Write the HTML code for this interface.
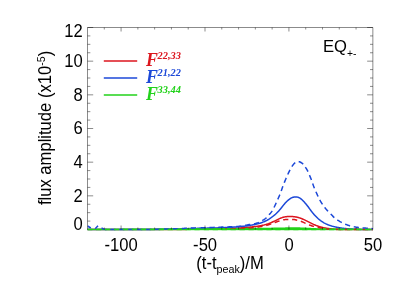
<!DOCTYPE html>
<html><head><meta charset="utf-8"><title>plot</title>
<style>
html,body{margin:0;padding:0;background:#fff;}
body{width:399px;height:285px;position:relative;overflow:hidden;font-family:"Liberation Sans",sans-serif;}
</style></head><body>
<svg width="399" height="285" viewBox="0 0 399 285" style="position:absolute;left:0;top:0" font-family="Liberation Sans, sans-serif" font-size="16.6" fill="#000">
<defs><clipPath id="c"><rect x="87.5" y="27.5" width="285.85" height="203.2"/></clipPath><filter id="soft" x="-5%" y="-5%" width="110%" height="110%"><feGaussianBlur stdDeviation="0.3"/></filter></defs>
<g clip-path="url(#c)" fill="none" stroke-width="1.5" stroke-linejoin="round">
<path d="M87.0,229.50 L87.5,229.50 L88.0,229.50 L88.5,229.50 L89.0,229.50 L89.5,229.50 L90.0,229.50 L90.5,229.50 L91.0,229.50 L91.5,229.50 L92.0,229.50 L92.5,229.50 L93.0,229.50 L93.5,229.50 L94.0,229.50 L94.5,229.50 L95.0,229.50 L95.5,229.50 L96.0,229.50 L96.5,229.50 L97.0,229.50 L97.5,229.50 L98.0,229.50 L98.5,229.50 L99.0,229.50 L99.5,229.50 L100.0,229.50 L100.5,229.50 L101.0,229.50 L101.5,229.50 L102.0,229.50 L102.5,229.50 L103.0,229.50 L103.5,229.50 L104.0,229.50 L104.5,229.50 L105.0,229.50 L105.5,229.50 L106.0,229.50 L106.5,229.50 L107.0,229.50 L107.5,229.50 L108.0,229.50 L108.5,229.50 L109.0,229.50 L109.5,229.50 L110.0,229.50 L110.5,229.50 L111.0,229.50 L111.5,229.50 L112.0,229.50 L112.5,229.50 L113.0,229.50 L113.5,229.50 L114.0,229.50 L114.5,229.50 L115.0,229.50 L115.5,229.50 L116.0,229.50 L116.5,229.50 L117.0,229.50 L117.5,229.50 L118.0,229.50 L118.5,229.50 L119.0,229.50 L119.5,229.50 L120.0,229.50 L120.5,229.50 L121.0,229.50 L121.5,229.50 L122.0,229.50 L122.5,229.50 L123.0,229.50 L123.5,229.50 L124.0,229.50 L124.5,229.50 L125.0,229.50 L125.5,229.50 L126.0,229.50 L126.5,229.50 L127.0,229.50 L127.5,229.50 L128.0,229.50 L128.5,229.50 L129.0,229.50 L129.5,229.50 L130.0,229.50 L130.5,229.50 L131.0,229.50 L131.5,229.50 L132.0,229.50 L132.5,229.50 L133.0,229.50 L133.5,229.50 L134.0,229.50 L134.5,229.50 L135.0,229.50 L135.5,229.50 L136.0,229.50 L136.5,229.50 L137.0,229.50 L137.5,229.50 L138.0,229.50 L138.5,229.50 L139.0,229.50 L139.5,229.50 L140.0,229.50 L140.5,229.50 L141.0,229.50 L141.5,229.50 L142.0,229.50 L142.5,229.50 L143.0,229.50 L143.5,229.50 L144.0,229.50 L144.5,229.50 L145.0,229.50 L145.5,229.50 L146.0,229.50 L146.5,229.50 L147.0,229.50 L147.5,229.50 L148.0,229.50 L148.5,229.50 L149.0,229.50 L149.5,229.50 L150.0,229.50 L150.5,229.50 L151.0,229.50 L151.5,229.50 L152.0,229.50 L152.5,229.50 L153.0,229.50 L153.5,229.50 L154.0,229.50 L154.5,229.50 L155.0,229.50 L155.5,229.50 L156.0,229.50 L156.5,229.50 L157.0,229.50 L157.5,229.50 L158.0,229.50 L158.5,229.50 L159.0,229.50 L159.5,229.50 L160.0,229.50 L160.5,229.50 L161.0,229.50 L161.5,229.50 L162.0,229.50 L162.5,229.50 L163.0,229.50 L163.5,229.50 L164.0,229.50 L164.5,229.50 L165.0,229.50 L165.5,229.50 L166.0,229.50 L166.5,229.50 L167.0,229.50 L167.5,229.50 L168.0,229.50 L168.5,229.50 L169.0,229.50 L169.5,229.50 L170.0,229.50 L170.5,229.50 L171.0,229.50 L171.5,229.50 L172.0,229.50 L172.5,229.50 L173.0,229.50 L173.5,229.50 L174.0,229.50 L174.5,229.50 L175.0,229.50 L175.5,229.50 L176.0,229.50 L176.5,229.50 L177.0,229.50 L177.5,229.50 L178.0,229.50 L178.5,229.50 L179.0,229.50 L179.5,229.50 L180.0,229.50 L180.5,229.50 L181.0,229.49 L181.5,229.49 L182.0,229.48 L182.5,229.48 L183.0,229.47 L183.5,229.46 L184.0,229.45 L184.5,229.44 L185.0,229.43 L185.5,229.41 L186.0,229.40 L186.5,229.38 L187.0,229.37 L187.5,229.35 L188.0,229.33 L188.5,229.32 L189.0,229.30 L189.5,229.28 L190.0,229.26 L190.5,229.24 L191.0,229.22 L191.5,229.20 L192.0,229.18 L192.5,229.16 L193.0,229.14 L193.5,229.12 L194.0,229.10 L194.5,229.08 L195.0,229.06 L195.5,229.04 L196.0,229.02 L196.5,229.01 L197.0,228.99 L197.5,228.97 L198.0,228.96 L198.5,228.94 L199.0,228.93 L199.5,228.91 L200.0,228.90 L200.5,228.89 L201.0,228.88 L201.5,228.87 L202.0,228.85 L202.5,228.84 L203.0,228.83 L203.5,228.82 L204.0,228.81 L204.5,228.80 L205.0,228.79 L205.5,228.78 L206.0,228.77 L206.5,228.76 L207.0,228.75 L207.5,228.74 L208.0,228.73 L208.5,228.72 L209.0,228.71 L209.5,228.70 L210.0,228.69 L210.5,228.68 L211.0,228.67 L211.5,228.66 L212.0,228.65 L212.5,228.64 L213.0,228.63 L213.5,228.62 L214.0,228.61 L214.5,228.60 L215.0,228.59 L215.5,228.59 L216.0,228.58 L216.5,228.57 L217.0,228.56 L217.5,228.55 L218.0,228.54 L218.5,228.53 L219.0,228.52 L219.5,228.51 L220.0,228.50 L220.5,228.49 L221.0,228.48 L221.5,228.47 L222.0,228.46 L222.5,228.46 L223.0,228.45 L223.5,228.44 L224.0,228.43 L224.5,228.43 L225.0,228.42 L225.5,228.41 L226.0,228.40 L226.5,228.40 L227.0,228.39 L227.5,228.38 L228.0,228.37 L228.5,228.37 L229.0,228.36 L229.5,228.35 L230.0,228.34 L230.5,228.33 L231.0,228.32 L231.5,228.31 L232.0,228.30 L232.5,228.29 L233.0,228.28 L233.5,228.27 L234.0,228.26 L234.5,228.24 L235.0,228.23 L235.5,228.21 L236.0,228.20 L236.5,228.18 L237.0,228.16 L237.5,228.13 L238.0,228.10 L238.5,228.07 L239.0,228.04 L239.5,228.01 L240.0,227.97 L240.5,227.93 L241.0,227.89 L241.5,227.85 L242.0,227.81 L242.5,227.76 L243.0,227.72 L243.5,227.67 L244.0,227.63 L244.5,227.58 L245.0,227.54 L245.5,227.49 L246.0,227.45 L246.5,227.40 L247.0,227.36 L247.5,227.31 L248.0,227.27 L248.5,227.22 L249.0,227.17 L249.5,227.13 L250.0,227.08 L250.5,227.03 L251.0,226.98 L251.5,226.94 L252.0,226.88 L252.5,226.83 L253.0,226.78 L253.5,226.73 L254.0,226.67 L254.5,226.61 L255.0,226.55 L255.5,226.49 L256.0,226.43 L256.5,226.37 L257.0,226.30 L257.5,226.23 L258.0,226.16 L258.5,226.08 L259.0,226.00 L259.5,225.92 L260.0,225.84 L260.5,225.75 L261.0,225.65 L261.5,225.55 L262.0,225.45 L262.5,225.35 L263.0,225.24 L263.5,225.12 L264.0,225.01 L264.5,224.88 L265.0,224.75 L265.5,224.61 L266.0,224.47 L266.5,224.33 L267.0,224.18 L267.5,224.02 L268.0,223.85 L268.5,223.68 L269.0,223.49 L269.5,223.30 L270.0,223.10 L270.5,222.90 L271.0,222.69 L271.5,222.47 L272.0,222.25 L272.5,222.02 L273.0,221.79 L273.5,221.55 L274.0,221.31 L274.5,221.06 L275.0,220.81 L275.5,220.55 L276.0,220.30 L276.5,220.05 L277.0,219.80 L277.5,219.56 L278.0,219.31 L278.5,219.08 L279.0,218.85 L279.5,218.63 L280.0,218.42 L280.5,218.21 L281.0,218.02 L281.5,217.83 L282.0,217.65 L282.5,217.48 L283.0,217.33 L283.5,217.19 L284.0,217.07 L284.5,216.96 L285.0,216.87 L285.5,216.78 L286.0,216.71 L286.5,216.64 L287.0,216.59 L287.5,216.55 L288.0,216.52 L288.5,216.50 L289.0,216.48 L289.5,216.47 L290.0,216.46 L290.5,216.46 L291.0,216.47 L291.5,216.48 L292.0,216.50 L292.5,216.54 L293.0,216.58 L293.5,216.63 L294.0,216.68 L294.5,216.75 L295.0,216.82 L295.5,216.89 L296.0,216.98 L296.5,217.08 L297.0,217.19 L297.5,217.31 L298.0,217.43 L298.5,217.57 L299.0,217.71 L299.5,217.86 L300.0,218.02 L300.5,218.19 L301.0,218.37 L301.5,218.56 L302.0,218.76 L302.5,218.97 L303.0,219.19 L303.5,219.42 L304.0,219.66 L304.5,219.90 L305.0,220.16 L305.5,220.41 L306.0,220.67 L306.5,220.93 L307.0,221.19 L307.5,221.44 L308.0,221.69 L308.5,221.93 L309.0,222.18 L309.5,222.42 L310.0,222.66 L310.5,222.91 L311.0,223.15 L311.5,223.40 L312.0,223.64 L312.5,223.89 L313.0,224.13 L313.5,224.36 L314.0,224.58 L314.5,224.80 L315.0,225.01 L315.5,225.21 L316.0,225.40 L316.5,225.59 L317.0,225.78 L317.5,225.96 L318.0,226.13 L318.5,226.30 L319.0,226.46 L319.5,226.62 L320.0,226.77 L320.5,226.92 L321.0,227.06 L321.5,227.20 L322.0,227.33 L322.5,227.46 L323.0,227.59 L323.5,227.70 L324.0,227.81 L324.5,227.92 L325.0,228.01 L325.5,228.10 L326.0,228.19 L326.5,228.27 L327.0,228.34 L327.5,228.41 L328.0,228.48 L328.5,228.55 L329.0,228.61 L329.5,228.67 L330.0,228.73 L330.5,228.79 L331.0,228.85 L331.5,228.91 L332.0,228.96 L332.5,229.01 L333.0,229.05 L333.5,229.09 L334.0,229.13 L334.5,229.16 L335.0,229.19 L335.5,229.22 L336.0,229.25 L336.5,229.27 L337.0,229.29 L337.5,229.31 L338.0,229.33 L338.5,229.35 L339.0,229.37 L339.5,229.39 L340.0,229.41 L340.5,229.42 L341.0,229.44 L341.5,229.45 L342.0,229.46 L342.5,229.47 L343.0,229.48 L343.5,229.49 L344.0,229.49 L344.5,229.50 L345.0,229.50 L345.5,229.50 L346.0,229.50 L346.5,229.50 L347.0,229.50 L347.5,229.50 L348.0,229.50 L348.5,229.50 L349.0,229.50 L349.5,229.50 L350.0,229.50 L350.5,229.50 L351.0,229.50 L351.5,229.50 L352.0,229.50 L352.5,229.50 L353.0,229.50 L353.5,229.50 L354.0,229.50 L354.5,229.50 L355.0,229.50 L355.5,229.50 L356.0,229.50 L356.5,229.50 L357.0,229.50 L357.5,229.50 L358.0,229.50 L358.5,229.50 L359.0,229.50 L359.5,229.50 L360.0,229.50 L360.5,229.50 L361.0,229.50 L361.5,229.50 L362.0,229.50 L362.5,229.50 L363.0,229.50 L363.5,229.50 L364.0,229.50 L364.5,229.50 L365.0,229.50 L365.5,229.50 L366.0,229.50 L366.5,229.50 L367.0,229.50 L367.5,229.50 L368.0,229.50 L368.5,229.50 L369.0,229.50 L369.5,229.50 L370.0,229.50 L370.5,229.50 L371.0,229.50 L371.5,229.50 L372.0,229.50 L372.5,229.50 L373.0,229.50" stroke="#dc141e"/>
<path d="M87.0,229.50 L87.5,229.50 L88.0,229.50 L88.5,229.50 L89.0,229.50 L89.5,229.50 L90.0,229.50 L90.5,229.50 L91.0,229.50 L91.5,229.50 L92.0,229.50 L92.5,229.50 L93.0,229.50 L93.5,229.50 L94.0,229.50 L94.5,229.50 L95.0,229.50 L95.5,229.50 L96.0,229.50 L96.5,229.50 L97.0,229.50 L97.5,229.50 L98.0,229.50 L98.5,229.50 L99.0,229.50 L99.5,229.50 L100.0,229.50 L100.5,229.50 L101.0,229.50 L101.5,229.50 L102.0,229.50 L102.5,229.50 L103.0,229.50 L103.5,229.50 L104.0,229.50 L104.5,229.50 L105.0,229.50 L105.5,229.50 L106.0,229.50 L106.5,229.50 L107.0,229.50 L107.5,229.50 L108.0,229.50 L108.5,229.50 L109.0,229.50 L109.5,229.50 L110.0,229.50 L110.5,229.50 L111.0,229.50 L111.5,229.50 L112.0,229.50 L112.5,229.50 L113.0,229.50 L113.5,229.50 L114.0,229.50 L114.5,229.50 L115.0,229.50 L115.5,229.50 L116.0,229.50 L116.5,229.50 L117.0,229.50 L117.5,229.50 L118.0,229.50 L118.5,229.50 L119.0,229.50 L119.5,229.50 L120.0,229.50 L120.5,229.50 L121.0,229.50 L121.5,229.50 L122.0,229.50 L122.5,229.50 L123.0,229.50 L123.5,229.50 L124.0,229.50 L124.5,229.50 L125.0,229.50 L125.5,229.50 L126.0,229.50 L126.5,229.50 L127.0,229.50 L127.5,229.50 L128.0,229.50 L128.5,229.50 L129.0,229.50 L129.5,229.50 L130.0,229.50 L130.5,229.50 L131.0,229.50 L131.5,229.50 L132.0,229.50 L132.5,229.50 L133.0,229.50 L133.5,229.50 L134.0,229.50 L134.5,229.50 L135.0,229.50 L135.5,229.50 L136.0,229.50 L136.5,229.50 L137.0,229.50 L137.5,229.50 L138.0,229.50 L138.5,229.50 L139.0,229.50 L139.5,229.50 L140.0,229.50 L140.5,229.50 L141.0,229.50 L141.5,229.50 L142.0,229.50 L142.5,229.50 L143.0,229.50 L143.5,229.50 L144.0,229.50 L144.5,229.50 L145.0,229.50 L145.5,229.50 L146.0,229.50 L146.5,229.50 L147.0,229.50 L147.5,229.50 L148.0,229.50 L148.5,229.50 L149.0,229.50 L149.5,229.50 L150.0,229.50 L150.5,229.50 L151.0,229.50 L151.5,229.50 L152.0,229.49 L152.5,229.49 L153.0,229.49 L153.5,229.48 L154.0,229.48 L154.5,229.47 L155.0,229.47 L155.5,229.46 L156.0,229.45 L156.5,229.44 L157.0,229.44 L157.5,229.43 L158.0,229.42 L158.5,229.41 L159.0,229.40 L159.5,229.39 L160.0,229.38 L160.5,229.37 L161.0,229.36 L161.5,229.35 L162.0,229.33 L162.5,229.32 L163.0,229.31 L163.5,229.30 L164.0,229.28 L164.5,229.27 L165.0,229.26 L165.5,229.25 L166.0,229.23 L166.5,229.22 L167.0,229.21 L167.5,229.19 L168.0,229.18 L168.5,229.17 L169.0,229.15 L169.5,229.14 L170.0,229.13 L170.5,229.11 L171.0,229.10 L171.5,229.09 L172.0,229.07 L172.5,229.06 L173.0,229.05 L173.5,229.04 L174.0,229.02 L174.5,229.01 L175.0,229.00 L175.5,228.99 L176.0,228.98 L176.5,228.96 L177.0,228.95 L177.5,228.94 L178.0,228.93 L178.5,228.91 L179.0,228.90 L179.5,228.89 L180.0,228.88 L180.5,228.86 L181.0,228.85 L181.5,228.84 L182.0,228.82 L182.5,228.81 L183.0,228.80 L183.5,228.78 L184.0,228.77 L184.5,228.75 L185.0,228.74 L185.5,228.73 L186.0,228.71 L186.5,228.70 L187.0,228.68 L187.5,228.67 L188.0,228.66 L188.5,228.64 L189.0,228.63 L189.5,228.61 L190.0,228.60 L190.5,228.59 L191.0,228.57 L191.5,228.56 L192.0,228.54 L192.5,228.53 L193.0,228.51 L193.5,228.50 L194.0,228.48 L194.5,228.46 L195.0,228.45 L195.5,228.43 L196.0,228.42 L196.5,228.40 L197.0,228.39 L197.5,228.37 L198.0,228.36 L198.5,228.34 L199.0,228.33 L199.5,228.31 L200.0,228.30 L200.5,228.29 L201.0,228.27 L201.5,228.26 L202.0,228.25 L202.5,228.24 L203.0,228.22 L203.5,228.21 L204.0,228.20 L204.5,228.19 L205.0,228.18 L205.5,228.17 L206.0,228.15 L206.5,228.14 L207.0,228.13 L207.5,228.12 L208.0,228.11 L208.5,228.10 L209.0,228.09 L209.5,228.08 L210.0,228.07 L210.5,228.06 L211.0,228.04 L211.5,228.03 L212.0,228.02 L212.5,228.01 L213.0,228.00 L213.5,227.99 L214.0,227.97 L214.5,227.96 L215.0,227.95 L215.5,227.94 L216.0,227.92 L216.5,227.91 L217.0,227.89 L217.5,227.88 L218.0,227.86 L218.5,227.85 L219.0,227.83 L219.5,227.82 L220.0,227.80 L220.5,227.78 L221.0,227.76 L221.5,227.74 L222.0,227.73 L222.5,227.71 L223.0,227.68 L223.5,227.66 L224.0,227.64 L224.5,227.62 L225.0,227.60 L225.5,227.57 L226.0,227.55 L226.5,227.52 L227.0,227.50 L227.5,227.47 L228.0,227.45 L228.5,227.42 L229.0,227.39 L229.5,227.36 L230.0,227.34 L230.5,227.31 L231.0,227.28 L231.5,227.25 L232.0,227.22 L232.5,227.18 L233.0,227.15 L233.5,227.12 L234.0,227.09 L234.5,227.05 L235.0,227.02 L235.5,226.98 L236.0,226.95 L236.5,226.91 L237.0,226.87 L237.5,226.83 L238.0,226.79 L238.5,226.75 L239.0,226.71 L239.5,226.66 L240.0,226.62 L240.5,226.57 L241.0,226.52 L241.5,226.47 L242.0,226.42 L242.5,226.37 L243.0,226.31 L243.5,226.26 L244.0,226.20 L244.5,226.14 L245.0,226.08 L245.5,226.02 L246.0,225.96 L246.5,225.90 L247.0,225.83 L247.5,225.76 L248.0,225.69 L248.5,225.62 L249.0,225.54 L249.5,225.47 L250.0,225.39 L250.5,225.30 L251.0,225.22 L251.5,225.13 L252.0,225.04 L252.5,224.95 L253.0,224.86 L253.5,224.76 L254.0,224.66 L254.5,224.56 L255.0,224.45 L255.5,224.34 L256.0,224.23 L256.5,224.12 L257.0,224.00 L257.5,223.88 L258.0,223.75 L258.5,223.62 L259.0,223.47 L259.5,223.33 L260.0,223.17 L260.5,223.01 L261.0,222.85 L261.5,222.67 L262.0,222.50 L262.5,222.31 L263.0,222.12 L263.5,221.92 L264.0,221.72 L264.5,221.50 L265.0,221.28 L265.5,221.05 L266.0,220.81 L266.5,220.56 L267.0,220.30 L267.5,220.03 L268.0,219.74 L268.5,219.44 L269.0,219.13 L269.5,218.80 L270.0,218.45 L270.5,218.10 L271.0,217.74 L271.5,217.37 L272.0,217.00 L272.5,216.62 L273.0,216.24 L273.5,215.86 L274.0,215.46 L274.5,215.06 L275.0,214.64 L275.5,214.21 L276.0,213.76 L276.5,213.29 L277.0,212.79 L277.5,212.28 L278.0,211.75 L278.5,211.21 L279.0,210.65 L279.5,210.09 L280.0,209.50 L280.5,208.90 L281.0,208.29 L281.5,207.66 L282.0,207.02 L282.5,206.38 L283.0,205.74 L283.5,205.12 L284.0,204.51 L284.5,203.92 L285.0,203.35 L285.5,202.80 L286.0,202.27 L286.5,201.75 L287.0,201.25 L287.5,200.78 L288.0,200.34 L288.5,199.93 L289.0,199.53 L289.5,199.16 L290.0,198.81 L290.5,198.48 L291.0,198.18 L291.5,197.90 L292.0,197.67 L292.5,197.47 L293.0,197.30 L293.5,197.16 L294.0,197.05 L294.5,196.96 L295.0,196.90 L295.5,196.88 L296.0,196.89 L296.5,196.94 L297.0,197.02 L297.5,197.13 L298.0,197.27 L298.5,197.44 L299.0,197.65 L299.5,197.90 L300.0,198.19 L300.5,198.52 L301.0,198.90 L301.5,199.31 L302.0,199.77 L302.5,200.25 L303.0,200.76 L303.5,201.28 L304.0,201.81 L304.5,202.36 L305.0,202.91 L305.5,203.48 L306.0,204.07 L306.5,204.67 L307.0,205.28 L307.5,205.92 L308.0,206.57 L308.5,207.25 L309.0,207.94 L309.5,208.63 L310.0,209.33 L310.5,210.02 L311.0,210.69 L311.5,211.35 L312.0,211.99 L312.5,212.61 L313.0,213.22 L313.5,213.81 L314.0,214.39 L314.5,214.95 L315.0,215.50 L315.5,216.04 L316.0,216.56 L316.5,217.07 L317.0,217.56 L317.5,218.04 L318.0,218.50 L318.5,218.94 L319.0,219.36 L319.5,219.76 L320.0,220.15 L320.5,220.53 L321.0,220.89 L321.5,221.24 L322.0,221.58 L322.5,221.91 L323.0,222.23 L323.5,222.53 L324.0,222.83 L324.5,223.11 L325.0,223.37 L325.5,223.63 L326.0,223.87 L326.5,224.10 L327.0,224.32 L327.5,224.53 L328.0,224.73 L328.5,224.93 L329.0,225.11 L329.5,225.30 L330.0,225.47 L330.5,225.64 L331.0,225.80 L331.5,225.96 L332.0,226.10 L332.5,226.25 L333.0,226.38 L333.5,226.51 L334.0,226.63 L334.5,226.75 L335.0,226.87 L335.5,226.98 L336.0,227.08 L336.5,227.19 L337.0,227.28 L337.5,227.38 L338.0,227.47 L338.5,227.56 L339.0,227.65 L339.5,227.73 L340.0,227.81 L340.5,227.89 L341.0,227.97 L341.5,228.05 L342.0,228.12 L342.5,228.19 L343.0,228.26 L343.5,228.33 L344.0,228.39 L344.5,228.45 L345.0,228.51 L345.5,228.56 L346.0,228.61 L346.5,228.66 L347.0,228.71 L347.5,228.76 L348.0,228.81 L348.5,228.85 L349.0,228.89 L349.5,228.93 L350.0,228.97 L350.5,229.00 L351.0,229.04 L351.5,229.07 L352.0,229.10 L352.5,229.12 L353.0,229.15 L353.5,229.17 L354.0,229.20 L354.5,229.22 L355.0,229.24 L355.5,229.27 L356.0,229.29 L356.5,229.31 L357.0,229.32 L357.5,229.34 L358.0,229.35 L358.5,229.37 L359.0,229.38 L359.5,229.39 L360.0,229.40 L360.5,229.41 L361.0,229.41 L361.5,229.42 L362.0,229.43 L362.5,229.43 L363.0,229.44 L363.5,229.44 L364.0,229.45 L364.5,229.45 L365.0,229.46 L365.5,229.46 L366.0,229.47 L366.5,229.47 L367.0,229.48 L367.5,229.48 L368.0,229.48 L368.5,229.49 L369.0,229.49 L369.5,229.49 L370.0,229.49 L370.5,229.49 L371.0,229.50 L371.5,229.50 L372.0,229.50 L372.5,229.50 L373.0,229.50" stroke="#1c48d8"/>
<path d="M87.0,229.38 L87.5,229.38 L88.0,229.38 L88.5,229.38 L89.0,229.38 L89.5,229.38 L90.0,229.38 L90.5,229.38 L91.0,229.38 L91.5,229.38 L92.0,229.38 L92.5,229.38 L93.0,229.38 L93.5,229.38 L94.0,229.38 L94.5,229.38 L95.0,229.38 L95.5,229.38 L96.0,229.38 L96.5,229.38 L97.0,229.38 L97.5,229.38 L98.0,229.38 L98.5,229.38 L99.0,229.38 L99.5,229.38 L100.0,229.38 L100.5,229.38 L101.0,229.38 L101.5,229.38 L102.0,229.38 L102.5,229.38 L103.0,229.38 L103.5,229.38 L104.0,229.38 L104.5,229.38 L105.0,229.38 L105.5,229.38 L106.0,229.38 L106.5,229.38 L107.0,229.38 L107.5,229.38 L108.0,229.38 L108.5,229.38 L109.0,229.38 L109.5,229.38 L110.0,229.38 L110.5,229.38 L111.0,229.38 L111.5,229.38 L112.0,229.38 L112.5,229.38 L113.0,229.38 L113.5,229.38 L114.0,229.38 L114.5,229.38 L115.0,229.38 L115.5,229.38 L116.0,229.38 L116.5,229.38 L117.0,229.38 L117.5,229.38 L118.0,229.38 L118.5,229.38 L119.0,229.38 L119.5,229.38 L120.0,229.38 L120.5,229.38 L121.0,229.38 L121.5,229.38 L122.0,229.38 L122.5,229.38 L123.0,229.38 L123.5,229.38 L124.0,229.38 L124.5,229.38 L125.0,229.38 L125.5,229.38 L126.0,229.38 L126.5,229.38 L127.0,229.38 L127.5,229.38 L128.0,229.38 L128.5,229.38 L129.0,229.38 L129.5,229.38 L130.0,229.38 L130.5,229.38 L131.0,229.38 L131.5,229.38 L132.0,229.38 L132.5,229.38 L133.0,229.38 L133.5,229.38 L134.0,229.38 L134.5,229.38 L135.0,229.38 L135.5,229.38 L136.0,229.38 L136.5,229.38 L137.0,229.38 L137.5,229.38 L138.0,229.38 L138.5,229.38 L139.0,229.38 L139.5,229.38 L140.0,229.38 L140.5,229.38 L141.0,229.38 L141.5,229.38 L142.0,229.38 L142.5,229.38 L143.0,229.38 L143.5,229.38 L144.0,229.38 L144.5,229.38 L145.0,229.38 L145.5,229.38 L146.0,229.38 L146.5,229.38 L147.0,229.38 L147.5,229.38 L148.0,229.38 L148.5,229.38 L149.0,229.38 L149.5,229.38 L150.0,229.38 L150.5,229.38 L151.0,229.38 L151.5,229.38 L152.0,229.38 L152.5,229.38 L153.0,229.38 L153.5,229.38 L154.0,229.38 L154.5,229.38 L155.0,229.38 L155.5,229.38 L156.0,229.38 L156.5,229.38 L157.0,229.38 L157.5,229.38 L158.0,229.38 L158.5,229.38 L159.0,229.38 L159.5,229.38 L160.0,229.38 L160.5,229.38 L161.0,229.38 L161.5,229.38 L162.0,229.38 L162.5,229.38 L163.0,229.38 L163.5,229.38 L164.0,229.38 L164.5,229.38 L165.0,229.38 L165.5,229.38 L166.0,229.38 L166.5,229.38 L167.0,229.38 L167.5,229.38 L168.0,229.38 L168.5,229.38 L169.0,229.38 L169.5,229.38 L170.0,229.38 L170.5,229.38 L171.0,229.38 L171.5,229.38 L172.0,229.38 L172.5,229.38 L173.0,229.38 L173.5,229.38 L174.0,229.38 L174.5,229.38 L175.0,229.38 L175.5,229.38 L176.0,229.38 L176.5,229.38 L177.0,229.38 L177.5,229.38 L178.0,229.38 L178.5,229.38 L179.0,229.38 L179.5,229.38 L180.0,229.38 L180.5,229.38 L181.0,229.38 L181.5,229.38 L182.0,229.38 L182.5,229.38 L183.0,229.38 L183.5,229.38 L184.0,229.38 L184.5,229.38 L185.0,229.38 L185.5,229.38 L186.0,229.38 L186.5,229.38 L187.0,229.38 L187.5,229.38 L188.0,229.38 L188.5,229.38 L189.0,229.38 L189.5,229.38 L190.0,229.38 L190.5,229.38 L191.0,229.38 L191.5,229.38 L192.0,229.38 L192.5,229.38 L193.0,229.38 L193.5,229.38 L194.0,229.38 L194.5,229.38 L195.0,229.38 L195.5,229.38 L196.0,229.38 L196.5,229.38 L197.0,229.38 L197.5,229.38 L198.0,229.38 L198.5,229.38 L199.0,229.38 L199.5,229.38 L200.0,229.38 L200.5,229.38 L201.0,229.38 L201.5,229.38 L202.0,229.38 L202.5,229.38 L203.0,229.38 L203.5,229.38 L204.0,229.38 L204.5,229.38 L205.0,229.38 L205.5,229.38 L206.0,229.38 L206.5,229.38 L207.0,229.38 L207.5,229.38 L208.0,229.38 L208.5,229.38 L209.0,229.38 L209.5,229.38 L210.0,229.38 L210.5,229.38 L211.0,229.38 L211.5,229.38 L212.0,229.38 L212.5,229.38 L213.0,229.38 L213.5,229.38 L214.0,229.38 L214.5,229.38 L215.0,229.38 L215.5,229.38 L216.0,229.38 L216.5,229.38 L217.0,229.38 L217.5,229.38 L218.0,229.38 L218.5,229.38 L219.0,229.38 L219.5,229.38 L220.0,229.38 L220.5,229.38 L221.0,229.38 L221.5,229.38 L222.0,229.38 L222.5,229.38 L223.0,229.38 L223.5,229.38 L224.0,229.38 L224.5,229.38 L225.0,229.38 L225.5,229.38 L226.0,229.38 L226.5,229.38 L227.0,229.38 L227.5,229.38 L228.0,229.38 L228.5,229.38 L229.0,229.38 L229.5,229.38 L230.0,229.38 L230.5,229.38 L231.0,229.38 L231.5,229.38 L232.0,229.38 L232.5,229.38 L233.0,229.38 L233.5,229.38 L234.0,229.38 L234.5,229.38 L235.0,229.38 L235.5,229.38 L236.0,229.38 L236.5,229.38 L237.0,229.38 L237.5,229.38 L238.0,229.38 L238.5,229.38 L239.0,229.38 L239.5,229.38 L240.0,229.38 L240.5,229.38 L241.0,229.38 L241.5,229.38 L242.0,229.38 L242.5,229.38 L243.0,229.38 L243.5,229.38 L244.0,229.38 L244.5,229.38 L245.0,229.38 L245.5,229.38 L246.0,229.38 L246.5,229.38 L247.0,229.38 L247.5,229.38 L248.0,229.38 L248.5,229.38 L249.0,229.38 L249.5,229.38 L250.0,229.38 L250.5,229.38 L251.0,229.38 L251.5,229.38 L252.0,229.38 L252.5,229.38 L253.0,229.38 L253.5,229.38 L254.0,229.38 L254.5,229.38 L255.0,229.38 L255.5,229.38 L256.0,229.38 L256.5,229.38 L257.0,229.38 L257.5,229.38 L258.0,229.38 L258.5,229.38 L259.0,229.38 L259.5,229.38 L260.0,229.38 L260.5,229.38 L261.0,229.38 L261.5,229.38 L262.0,229.38 L262.5,229.38 L263.0,229.38 L263.5,229.38 L264.0,229.38 L264.5,229.38 L265.0,229.38 L265.5,229.38 L266.0,229.38 L266.5,229.38 L267.0,229.38 L267.5,229.38 L268.0,229.38 L268.5,229.38 L269.0,229.38 L269.5,229.38 L270.0,229.38 L270.5,229.38 L271.0,229.38 L271.5,229.38 L272.0,229.38 L272.5,229.38 L273.0,229.38 L273.5,229.38 L274.0,229.38 L274.5,229.38 L275.0,229.38 L275.5,229.38 L276.0,229.38 L276.5,229.38 L277.0,229.38 L277.5,229.38 L278.0,229.38 L278.5,229.38 L279.0,229.38 L279.5,229.38 L280.0,229.38 L280.5,229.38 L281.0,229.38 L281.5,229.38 L282.0,229.38 L282.5,229.38 L283.0,229.38 L283.5,229.38 L284.0,229.38 L284.5,229.38 L285.0,229.38 L285.5,229.38 L286.0,229.38 L286.5,229.38 L287.0,229.38 L287.5,229.38 L288.0,229.38 L288.5,229.38 L289.0,229.38 L289.5,229.38 L290.0,229.38 L290.5,229.38 L291.0,229.38 L291.5,229.38 L292.0,229.38 L292.5,229.38 L293.0,229.38 L293.5,229.38 L294.0,229.38 L294.5,229.38 L295.0,229.38 L295.5,229.38 L296.0,229.38 L296.5,229.38 L297.0,229.38 L297.5,229.38 L298.0,229.38 L298.5,229.38 L299.0,229.38 L299.5,229.38 L300.0,229.38 L300.5,229.38 L301.0,229.38 L301.5,229.38 L302.0,229.38 L302.5,229.38 L303.0,229.38 L303.5,229.38 L304.0,229.38 L304.5,229.38 L305.0,229.38 L305.5,229.38 L306.0,229.38 L306.5,229.38 L307.0,229.38 L307.5,229.38 L308.0,229.38 L308.5,229.38 L309.0,229.38 L309.5,229.38 L310.0,229.38 L310.5,229.38 L311.0,229.38 L311.5,229.38 L312.0,229.38 L312.5,229.38 L313.0,229.38 L313.5,229.38 L314.0,229.38 L314.5,229.38 L315.0,229.38 L315.5,229.38 L316.0,229.38 L316.5,229.38 L317.0,229.38 L317.5,229.38 L318.0,229.38 L318.5,229.38 L319.0,229.38 L319.5,229.38 L320.0,229.38 L320.5,229.38 L321.0,229.38 L321.5,229.38 L322.0,229.38 L322.5,229.38 L323.0,229.38 L323.5,229.38 L324.0,229.38 L324.5,229.38 L325.0,229.38 L325.5,229.38 L326.0,229.38 L326.5,229.38 L327.0,229.38 L327.5,229.38 L328.0,229.38 L328.5,229.38 L329.0,229.38 L329.5,229.38 L330.0,229.38 L330.5,229.38 L331.0,229.38 L331.5,229.38 L332.0,229.38 L332.5,229.38 L333.0,229.38 L333.5,229.38 L334.0,229.38 L334.5,229.38 L335.0,229.38 L335.5,229.38 L336.0,229.38 L336.5,229.38 L337.0,229.38 L337.5,229.38 L338.0,229.38 L338.5,229.38 L339.0,229.38 L339.5,229.38 L340.0,229.38 L340.5,229.38 L341.0,229.38 L341.5,229.38 L342.0,229.38 L342.5,229.38 L343.0,229.38 L343.5,229.38 L344.0,229.38 L344.5,229.38 L345.0,229.38 L345.5,229.38 L346.0,229.38 L346.5,229.38 L347.0,229.38 L347.5,229.38 L348.0,229.38 L348.5,229.38 L349.0,229.38 L349.5,229.38 L350.0,229.38 L350.5,229.38 L351.0,229.38 L351.5,229.38 L352.0,229.38 L352.5,229.38 L353.0,229.38 L353.5,229.38 L354.0,229.38 L354.5,229.38 L355.0,229.38 L355.5,229.38 L356.0,229.38 L356.5,229.38 L357.0,229.38 L357.5,229.38 L358.0,229.38 L358.5,229.38 L359.0,229.38 L359.5,229.38 L360.0,229.38 L360.5,229.38 L361.0,229.38 L361.5,229.38 L362.0,229.38 L362.5,229.38 L363.0,229.38 L363.5,229.38 L364.0,229.38 L364.5,229.38 L365.0,229.38 L365.5,229.38 L366.0,229.38 L366.5,229.38 L367.0,229.38 L367.5,229.38 L368.0,229.38 L368.5,229.38 L369.0,229.38 L369.5,229.38 L370.0,229.38 L370.5,229.38 L371.0,229.38 L371.5,229.38 L372.0,229.38 L372.5,229.38 L373.0,229.38" stroke="#22d21a"/>
<path d="M120.0,228.78 L120.5,228.78 L121.0,228.78 L121.5,228.78 L122.0,228.78 L122.5,228.78 L123.0,228.78 L123.5,228.78 L124.0,228.77 L124.5,228.77 L125.0,228.77 L125.5,228.77 L126.0,228.77 L126.5,228.77 L127.0,228.77 L127.5,228.77 L128.0,228.77 L128.5,228.77 L129.0,228.76 L129.5,228.76 L130.0,228.76 L130.5,228.76 L131.0,228.76 L131.5,228.76 L132.0,228.76 L132.5,228.75 L133.0,228.75 L133.5,228.75 L134.0,228.75 L134.5,228.75 L135.0,228.75 L135.5,228.75 L136.0,228.74 L136.5,228.74 L137.0,228.74 L137.5,228.74 L138.0,228.74 L138.5,228.74 L139.0,228.73 L139.5,228.73 L140.0,228.73 L140.5,228.73 L141.0,228.73 L141.5,228.72 L142.0,228.72 L142.5,228.72 L143.0,228.72 L143.5,228.71 L144.0,228.71 L144.5,228.71 L145.0,228.71 L145.5,228.70 L146.0,228.70 L146.5,228.70 L147.0,228.70 L147.5,228.69 L148.0,228.69 L148.5,228.69 L149.0,228.68 L149.5,228.68 L150.0,228.68 L150.5,228.67 L151.0,228.67 L151.5,228.67 L152.0,228.66 L152.5,228.66 L153.0,228.66 L153.5,228.65 L154.0,228.65 L154.5,228.65 L155.0,228.64 L155.5,228.64 L156.0,228.63 L156.5,228.63 L157.0,228.63 L157.5,228.62 L158.0,228.62 L158.5,228.62 L159.0,228.61 L159.5,228.61 L160.0,228.60 L160.5,228.60 L161.0,228.60 L161.5,228.59 L162.0,228.59 L162.5,228.58 L163.0,228.58 L163.5,228.58 L164.0,228.57 L164.5,228.57 L165.0,228.57 L165.5,228.56 L166.0,228.56 L166.5,228.55 L167.0,228.55 L167.5,228.55 L168.0,228.54 L168.5,228.54 L169.0,228.54 L169.5,228.53 L170.0,228.53 L170.5,228.53 L171.0,228.52 L171.5,228.52 L172.0,228.52 L172.5,228.51 L173.0,228.51 L173.5,228.51 L174.0,228.50 L174.5,228.50 L175.0,228.50 L175.5,228.49 L176.0,228.49 L176.5,228.49 L177.0,228.48 L177.5,228.48 L178.0,228.48 L178.5,228.48 L179.0,228.47 L179.5,228.47 L180.0,228.47 L180.5,228.46 L181.0,228.46 L181.5,228.46 L182.0,228.45 L182.5,228.45 L183.0,228.45 L183.5,228.44 L184.0,228.44 L184.5,228.44 L185.0,228.43 L185.5,228.43 L186.0,228.43 L186.5,228.43 L187.0,228.42 L187.5,228.42 L188.0,228.42 L188.5,228.41 L189.0,228.41 L189.5,228.41 L190.0,228.40 L190.5,228.40 L191.0,228.40 L191.5,228.39 L192.0,228.39 L192.5,228.39 L193.0,228.38 L193.5,228.38 L194.0,228.37 L194.5,228.37 L195.0,228.37 L195.5,228.36 L196.0,228.36 L196.5,228.36 L197.0,228.35 L197.5,228.35 L198.0,228.35 L198.5,228.34 L199.0,228.34 L199.5,228.33 L200.0,228.33 L200.5,228.33 L201.0,228.32 L201.5,228.32 L202.0,228.31 L202.5,228.31 L203.0,228.30 L203.5,228.30 L204.0,228.30 L204.5,228.29 L205.0,228.29 L205.5,228.28 L206.0,228.28 L206.5,228.27 L207.0,228.27 L207.5,228.26 L208.0,228.26 L208.5,228.25 L209.0,228.25 L209.5,228.24 L210.0,228.24 L210.5,228.23 L211.0,228.23 L211.5,228.22 L212.0,228.22 L212.5,228.21 L213.0,228.21 L213.5,228.20 L214.0,228.20 L214.5,228.19 L215.0,228.19 L215.5,228.18 L216.0,228.18 L216.5,228.17 L217.0,228.17 L217.5,228.16 L218.0,228.16 L218.5,228.15 L219.0,228.15 L219.5,228.14 L220.0,228.14 L220.5,228.13 L221.0,228.12 L221.5,228.12 L222.0,228.11 L222.5,228.11 L223.0,228.10 L223.5,228.10 L224.0,228.09 L224.5,228.09 L225.0,228.08 L225.5,228.08 L226.0,228.07 L226.5,228.07 L227.0,228.06 L227.5,228.06 L228.0,228.05 L228.5,228.04 L229.0,228.04 L229.5,228.03 L230.0,228.03 L230.5,228.02 L231.0,228.02 L231.5,228.01 L232.0,228.01 L232.5,228.00 L233.0,228.00 L233.5,227.99 L234.0,227.99 L234.5,227.98 L235.0,227.98 L235.5,227.97 L236.0,227.97 L236.5,227.96 L237.0,227.96 L237.5,227.95 L238.0,227.95 L238.5,227.94 L239.0,227.94 L239.5,227.93 L240.0,227.93 L240.5,227.93 L241.0,227.92 L241.5,227.92 L242.0,227.91 L242.5,227.91 L243.0,227.90 L243.5,227.90 L244.0,227.90 L244.5,227.89 L245.0,227.89 L245.5,227.88 L246.0,227.88 L246.5,227.88 L247.0,227.87 L247.5,227.87 L248.0,227.87 L248.5,227.86 L249.0,227.86 L249.5,227.85 L250.0,227.85 L250.5,227.85 L251.0,227.84 L251.5,227.84 L252.0,227.84 L252.5,227.83 L253.0,227.83 L253.5,227.83 L254.0,227.82 L254.5,227.82 L255.0,227.81 L255.5,227.81 L256.0,227.81 L256.5,227.80 L257.0,227.80 L257.5,227.80 L258.0,227.79 L258.5,227.79 L259.0,227.78 L259.5,227.78 L260.0,227.78 L260.5,227.77 L261.0,227.77 L261.5,227.76 L262.0,227.76 L262.5,227.75 L263.0,227.75 L263.5,227.75 L264.0,227.74 L264.5,227.74 L265.0,227.73 L265.5,227.73 L266.0,227.72 L266.5,227.72 L267.0,227.71 L267.5,227.71 L268.0,227.70 L268.5,227.70 L269.0,227.69 L269.5,227.68 L270.0,227.68 L270.5,227.67 L271.0,227.66 L271.5,227.66 L272.0,227.65 L272.5,227.64 L273.0,227.63 L273.5,227.62 L274.0,227.61 L274.5,227.60 L275.0,227.59 L275.5,227.58 L276.0,227.57 L276.5,227.56 L277.0,227.55 L277.5,227.53 L278.0,227.52 L278.5,227.51 L279.0,227.50 L279.5,227.49 L280.0,227.48 L280.5,227.47 L281.0,227.45 L281.5,227.44 L282.0,227.43 L282.5,227.42 L283.0,227.41 L283.5,227.40 L284.0,227.39 L284.5,227.39 L285.0,227.38 L285.5,227.37 L286.0,227.36 L286.5,227.36 L287.0,227.35 L287.5,227.35 L288.0,227.34 L288.5,227.34 L289.0,227.34 L289.5,227.34 L290.0,227.33 L290.5,227.33 L291.0,227.33 L291.5,227.33 L292.0,227.33 L292.5,227.33 L293.0,227.33 L293.5,227.33 L294.0,227.33 L294.5,227.33 L295.0,227.33 L295.5,227.33 L296.0,227.33 L296.5,227.33 L297.0,227.33 L297.5,227.34 L298.0,227.34 L298.5,227.34 L299.0,227.35 L299.5,227.36 L300.0,227.37 L300.5,227.38 L301.0,227.39 L301.5,227.41 L302.0,227.42 L302.5,227.44 L303.0,227.46 L303.5,227.48 L304.0,227.51 L304.5,227.53 L305.0,227.56 L305.5,227.58 L306.0,227.61 L306.5,227.64 L307.0,227.66 L307.5,227.69 L308.0,227.72 L308.5,227.75 L309.0,227.78 L309.5,227.81 L310.0,227.84 L310.5,227.87 L311.0,227.89 L311.5,227.92 L312.0,227.95 L312.5,227.97 L313.0,228.00 L313.5,228.02 L314.0,228.04 L314.5,228.06 L315.0,228.09 L315.5,228.10 L316.0,228.12 L316.5,228.14 L317.0,228.16 L317.5,228.17 L318.0,228.19 L318.5,228.20 L319.0,228.22 L319.5,228.23 L320.0,228.25 L320.5,228.26 L321.0,228.28 L321.5,228.29 L322.0,228.30 L322.5,228.32 L323.0,228.33 L323.5,228.34 L324.0,228.36 L324.5,228.37 L325.0,228.38 L325.5,228.39 L326.0,228.41 L326.5,228.42 L327.0,228.43 L327.5,228.44 L328.0,228.45 L328.5,228.46 L329.0,228.47 L329.5,228.48 L330.0,228.49 L330.5,228.50 L331.0,228.51 L331.5,228.52 L332.0,228.53 L332.5,228.54 L333.0,228.55 L333.5,228.56 L334.0,228.56 L334.5,228.57 L335.0,228.58 L335.5,228.59 L336.0,228.59 L336.5,228.60 L337.0,228.61 L337.5,228.61 L338.0,228.62 L338.5,228.62 L339.0,228.63 L339.5,228.64 L340.0,228.64 L340.5,228.65 L341.0,228.65 L341.5,228.66 L342.0,228.66 L342.5,228.67 L343.0,228.67 L343.5,228.68 L344.0,228.68 L344.5,228.69 L345.0,228.69 L345.5,228.70 L346.0,228.70 L346.5,228.70 L347.0,228.71 L347.5,228.71 L348.0,228.72 L348.5,228.72 L349.0,228.72 L349.5,228.73 L350.0,228.73 L350.5,228.73 L351.0,228.74 L351.5,228.74 L352.0,228.74 L352.5,228.74 L353.0,228.75 L353.5,228.75 L354.0,228.75 L354.5,228.76 L355.0,228.76 L355.5,228.76 L356.0,228.76 L356.5,228.77 L357.0,228.77 L357.5,228.77 L358.0,228.77 L358.5,228.77 L359.0,228.77 L359.5,228.78 L360.0,228.78 L360.0,229.98 L120.0,229.98 Z" fill="#22d21a" stroke="none"/>
<path d="M225.0,229.10 L225.5,229.09 L226.0,229.08 L226.5,229.07 L227.0,229.06 L227.5,229.05 L228.0,229.04 L228.5,229.03 L229.0,229.02 L229.5,229.01 L230.0,229.00 L230.5,228.99 L231.0,228.98 L231.5,228.96 L232.0,228.95 L232.5,228.93 L233.0,228.92 L233.5,228.90 L234.0,228.89 L234.5,228.87 L235.0,228.85 L235.5,228.83 L236.0,228.81 L236.5,228.79 L237.0,228.77 L237.5,228.75 L238.0,228.73 L238.5,228.71 L239.0,228.68 L239.5,228.66 L240.0,228.63 L240.5,228.61 L241.0,228.58 L241.5,228.55 L242.0,228.53 L242.5,228.50 L243.0,228.47 L243.5,228.44 L244.0,228.41 L244.5,228.38 L245.0,228.35 L245.5,228.31 L246.0,228.28 L246.5,228.25 L247.0,228.21 L247.5,228.18 L248.0,228.14 L248.5,228.11 L249.0,228.07 L249.5,228.04 L250.0,228.00 L250.5,227.96 L251.0,227.91 L251.5,227.87 L252.0,227.82 L252.5,227.76 L253.0,227.71 L253.5,227.65 L254.0,227.59 L254.5,227.53 L255.0,227.46 L255.5,227.40 L256.0,227.33 L256.5,227.26 L257.0,227.19 L257.5,227.11 L258.0,227.04 L258.5,226.96 L259.0,226.88 L259.5,226.80 L260.0,226.71 L260.5,226.63 L261.0,226.53 L261.5,226.44 L262.0,226.34 L262.5,226.24 L263.0,226.14 L263.5,226.03 L264.0,225.92 L264.5,225.81 L265.0,225.70 L265.5,225.58 L266.0,225.46 L266.5,225.33 L267.0,225.20 L267.5,225.07 L268.0,224.93 L268.5,224.79 L269.0,224.64 L269.5,224.48 L270.0,224.31 L270.5,224.14 L271.0,223.96 L271.5,223.78 L272.0,223.59 L272.5,223.41 L273.0,223.22 L273.5,223.03 L274.0,222.84 L274.5,222.65 L275.0,222.47 L275.5,222.29 L276.0,222.11 L276.5,221.93 L277.0,221.76 L277.5,221.58 L278.0,221.40 L278.5,221.21 L279.0,221.03 L279.5,220.86 L280.0,220.68 L280.5,220.52 L281.0,220.37 L281.5,220.23 L282.0,220.11 L282.5,220.00 L283.0,219.91 L283.5,219.82 L284.0,219.75 L284.5,219.68 L285.0,219.62 L285.5,219.57 L286.0,219.52 L286.5,219.48 L287.0,219.45 L287.5,219.43 L288.0,219.41 L288.5,219.41 L289.0,219.40 L289.5,219.40 L290.0,219.40 L290.5,219.40 L291.0,219.40 L291.5,219.40 L292.0,219.41 L292.5,219.42 L293.0,219.44 L293.5,219.47 L294.0,219.53 L294.5,219.61 L295.0,219.71 L295.5,219.82 L296.0,219.94 L296.5,220.07 L297.0,220.20 L297.5,220.33 L298.0,220.46 L298.5,220.60 L299.0,220.74 L299.5,220.89 L300.0,221.05 L300.5,221.21 L301.0,221.38 L301.5,221.56 L302.0,221.75 L302.5,221.95 L303.0,222.17 L303.5,222.39 L304.0,222.62 L304.5,222.85 L305.0,223.08 L305.5,223.32 L306.0,223.55 L306.5,223.77 L307.0,223.99 L307.5,224.20 L308.0,224.41 L308.5,224.62 L309.0,224.82 L309.5,225.01 L310.0,225.20 L310.5,225.39 L311.0,225.57 L311.5,225.75 L312.0,225.92 L312.5,226.09 L313.0,226.24 L313.5,226.39 L314.0,226.53 L314.5,226.66 L315.0,226.79 L315.5,226.90 L316.0,227.02 L316.5,227.13 L317.0,227.23 L317.5,227.33 L318.0,227.43 L318.5,227.53 L319.0,227.62 L319.5,227.71 L320.0,227.80 L320.5,227.89 L321.0,227.98 L321.5,228.07 L322.0,228.17 L322.5,228.26 L323.0,228.35 L323.5,228.44 L324.0,228.53 L324.5,228.61 L325.0,228.70 L325.5,228.78 L326.0,228.85 L326.5,228.92 L327.0,228.98 L327.5,229.03 L328.0,229.08 L328.5,229.12 L329.0,229.16 L329.5,229.20 L330.0,229.24 L330.5,229.27 L331.0,229.30 L331.5,229.33 L332.0,229.35 L332.5,229.37 L333.0,229.39" stroke="#dc141e" stroke-dasharray="5.2 3.75" stroke-dashoffset="3.32"/>
<path d="M333.0,229.42 L333.5,229.42 L334.0,229.43 L334.5,229.44 L335.0,229.45 L335.5,229.45 L336.0,229.45 L336.5,229.45 L337.0,229.46 L337.5,229.46 L338.0,229.46 L338.5,229.46 L339.0,229.46 L339.5,229.46 L340.0,229.46 L340.5,229.47 L341.0,229.47 L341.5,229.47 L342.0,229.47 L342.5,229.47 L343.0,229.47 L343.5,229.47 L344.0,229.47 L344.5,229.48 L345.0,229.48 L345.5,229.48 L346.0,229.48 L346.5,229.48 L347.0,229.48 L347.5,229.48 L348.0,229.48 L348.5,229.48 L349.0,229.48 L349.5,229.48 L350.0,229.49 L350.5,229.49 L351.0,229.49 L351.5,229.49 L352.0,229.49 L352.5,229.49 L353.0,229.49 L353.5,229.49 L354.0,229.49 L354.5,229.49 L355.0,229.49 L355.5,229.49 L356.0,229.49 L356.5,229.49 L357.0,229.49 L357.5,229.49 L358.0,229.49 L358.5,229.49 L359.0,229.50 L359.5,229.50 L360.0,229.50 L360.5,229.50 L361.0,229.50 L361.5,229.50 L362.0,229.50 L362.5,229.50 L363.0,229.50 L363.5,229.50 L364.0,229.50 L364.5,229.50 L365.0,229.50 L365.5,229.50 L366.0,229.50 L366.5,229.50 L367.0,229.50 L367.5,229.50 L368.0,229.50 L368.5,229.50 L369.0,229.50 L369.5,229.50 L370.0,229.50 L370.5,229.50 L371.0,229.50 L371.5,229.50 L372.0,229.50 L372.5,229.50 L373.0,229.50" stroke="#dc141e" stroke-dasharray="5.2 3.75" stroke-dashoffset="5.95"/>
<path d="M87.5,226.0 L90.8,228.0 M95.2,228.8 L98.0,225.8 M101.5,227.8 L104.6,229.6" stroke="#1c48d8"/>
<path d="M105.0,229.60 L105.5,229.60 L106.0,229.60 L106.5,229.60 L107.0,229.60 L107.5,229.60 L108.0,229.60 L108.5,229.60 L109.0,229.60 L109.5,229.60 L110.0,229.60 L110.5,229.60 L111.0,229.60 L111.5,229.60 L112.0,229.60 L112.5,229.59 L113.0,229.59 L113.5,229.59 L114.0,229.59 L114.5,229.59 L115.0,229.59 L115.5,229.59 L116.0,229.59 L116.5,229.59 L117.0,229.59 L117.5,229.59 L118.0,229.58 L118.5,229.58 L119.0,229.58 L119.5,229.58 L120.0,229.58 L120.5,229.58 L121.0,229.58 L121.5,229.58 L122.0,229.57 L122.5,229.57 L123.0,229.57 L123.5,229.57 L124.0,229.57 L124.5,229.57 L125.0,229.56 L125.5,229.56 L126.0,229.56 L126.5,229.56 L127.0,229.56 L127.5,229.56 L128.0,229.55 L128.5,229.55 L129.0,229.55 L129.5,229.55 L130.0,229.55 L130.5,229.54 L131.0,229.54 L131.5,229.54 L132.0,229.54 L132.5,229.54 L133.0,229.53 L133.5,229.53 L134.0,229.53 L134.5,229.53 L135.0,229.52 L135.5,229.52 L136.0,229.52 L136.5,229.52 L137.0,229.51 L137.5,229.51 L138.0,229.51 L138.5,229.51 L139.0,229.50 L139.5,229.50 L140.0,229.50 L140.5,229.50 L141.0,229.49 L141.5,229.49 L142.0,229.49 L142.5,229.48 L143.0,229.48 L143.5,229.47 L144.0,229.47 L144.5,229.46 L145.0,229.46 L145.5,229.45 L146.0,229.44 L146.5,229.44 L147.0,229.43 L147.5,229.42 L148.0,229.41 L148.5,229.41 L149.0,229.40 L149.5,229.39 L150.0,229.38 L150.5,229.38 L151.0,229.37 L151.5,229.36 L152.0,229.35 L152.5,229.34 L153.0,229.33 L153.5,229.33 L154.0,229.32 L154.5,229.31 L155.0,229.30 L155.5,229.29 L156.0,229.28 L156.5,229.27 L157.0,229.26 L157.5,229.25 L158.0,229.24 L158.5,229.23 L159.0,229.22 L159.5,229.21 L160.0,229.20 L160.5,229.19 L161.0,229.18 L161.5,229.17 L162.0,229.16 L162.5,229.15 L163.0,229.14 L163.5,229.13 L164.0,229.11 L164.5,229.10 L165.0,229.09 L165.5,229.08 L166.0,229.06 L166.5,229.05 L167.0,229.04 L167.5,229.02 L168.0,229.01 L168.5,229.00 L169.0,228.98 L169.5,228.97 L170.0,228.95 L170.5,228.94 L171.0,228.92 L171.5,228.91 L172.0,228.89 L172.5,228.88 L173.0,228.86 L173.5,228.85 L174.0,228.83 L174.5,228.82 L175.0,228.80 L175.5,228.78 L176.0,228.76 L176.5,228.74 L177.0,228.72 L177.5,228.70 L178.0,228.68 L178.5,228.66 L179.0,228.63 L179.5,228.61 L180.0,228.59 L180.5,228.56 L181.0,228.54 L181.5,228.51 L182.0,228.48 L182.5,228.46 L183.0,228.43 L183.5,228.40 L184.0,228.38 L184.5,228.35 L185.0,228.32 L185.5,228.30 L186.0,228.27 L186.5,228.25 L187.0,228.22 L187.5,228.20 L188.0,228.17 L188.5,228.15 L189.0,228.12 L189.5,228.10 L190.0,228.08 L190.5,228.06 L191.0,228.04 L191.5,228.02 L192.0,228.00 L192.5,227.98 L193.0,227.97 L193.5,227.95 L194.0,227.93 L194.5,227.92 L195.0,227.90 L195.5,227.89 L196.0,227.87 L196.5,227.86 L197.0,227.85 L197.5,227.83 L198.0,227.82 L198.5,227.81 L199.0,227.79 L199.5,227.78 L200.0,227.78" stroke="#1c48d8" stroke-dasharray="5.2 3.75" stroke-dashoffset="3.65"/>
<path d="M200.0,227.76 L200.5,227.75 L201.0,227.74 L201.5,227.73 L202.0,227.71 L202.5,227.70 L203.0,227.69 L203.5,227.68 L204.0,227.66 L204.5,227.65 L205.0,227.64 L205.5,227.63 L206.0,227.61 L206.5,227.60 L207.0,227.59 L207.5,227.57 L208.0,227.56 L208.5,227.54 L209.0,227.53 L209.5,227.51 L210.0,227.50 L210.5,227.48 L211.0,227.47 L211.5,227.45 L212.0,227.44 L212.5,227.42 L213.0,227.41 L213.5,227.39 L214.0,227.37 L214.5,227.36 L215.0,227.34 L215.5,227.33 L216.0,227.31 L216.5,227.29 L217.0,227.28 L217.5,227.26 L218.0,227.24 L218.5,227.23 L219.0,227.21 L219.5,227.19 L220.0,227.17 L220.5,227.16 L221.0,227.14 L221.5,227.12 L222.0,227.11 L222.5,227.09 L223.0,227.07 L223.5,227.05 L224.0,227.04 L224.5,227.02 L225.0,227.00 L225.5,226.98 L226.0,226.97 L226.5,226.95 L227.0,226.94 L227.5,226.92 L228.0,226.90 L228.5,226.89 L229.0,226.87 L229.5,226.86 L230.0,226.84 L230.5,226.83 L231.0,226.81 L231.5,226.80 L232.0,226.78 L232.5,226.76 L233.0,226.74 L233.5,226.72 L234.0,226.70 L234.5,226.68 L235.0,226.65 L235.5,226.63 L236.0,226.60 L236.5,226.57 L237.0,226.54 L237.5,226.51 L238.0,226.47 L238.5,226.42 L239.0,226.37 L239.5,226.32 L240.0,226.26 L240.5,226.19 L241.0,226.13 L241.5,226.06 L242.0,225.98 L242.5,225.91 L243.0,225.83 L243.5,225.74 L244.0,225.66 L244.5,225.56 L245.0,225.46 L245.5,225.35 L246.0,225.24 L246.5,225.12 L247.0,224.99 L247.5,224.87 L248.0,224.76 L248.5,224.66 L249.0,224.56 L249.5,224.48 L250.0,224.41 L250.5,224.35 L251.0,224.29 L251.5,224.23 L252.0,224.17 L252.5,224.11 L253.0,224.04 L253.5,223.96 L254.0,223.86 L254.5,223.76 L255.0,223.64 L255.5,223.51 L256.0,223.37 L256.5,223.22 L257.0,223.06 L257.5,222.89 L258.0,222.71 L258.5,222.51 L259.0,222.29 L259.5,222.06 L260.0,221.81 L260.5,221.56 L261.0,221.29 L261.5,221.01 L262.0,220.74 L262.5,220.46 L263.0,220.17 L263.5,219.88 L264.0,219.57 L264.5,219.25 L265.0,218.90 L265.5,218.51 L266.0,218.09 L266.5,217.63 L267.0,217.12 L267.5,216.57 L268.0,216.00 L268.5,215.43 L269.0,214.86 L269.5,214.30 L270.0,213.73 L270.5,213.15 L271.0,212.53 L271.5,211.87 L272.0,211.14 L272.5,210.34 L273.0,209.47 L273.5,208.54 L274.0,207.55 L274.5,206.52 L275.0,205.45 L275.5,204.37 L276.0,203.28 L276.5,202.19 L277.0,201.10 L277.5,200.01 L278.0,198.91 L278.5,197.79 L279.0,196.64 L279.5,195.46 L280.0,194.22 L280.5,192.93 L281.0,191.57 L281.5,190.16 L282.0,188.73 L282.5,187.32 L283.0,185.95 L283.5,184.62 L284.0,183.35 L284.5,182.11 L285.0,180.90 L285.5,179.70 L286.0,178.52 L286.5,177.35 L287.0,176.21 L287.5,175.08 L288.0,173.98 L288.5,172.91 L289.0,171.87 L289.5,170.85 L290.0,169.88 L290.5,168.94 L291.0,168.04 L291.5,167.20 L292.0,166.41 L292.5,165.68 L293.0,165.00 L293.5,164.37 L294.0,163.80 L294.5,163.28 L295.0,162.81 L295.5,162.39 L296.0,162.03 L296.5,161.76 L297.0,161.58 L297.5,161.48 L298.0,161.48 L298.5,161.54 L299.0,161.65 L299.5,161.80 L300.0,162.00 L300.5,162.24 L301.0,162.51 L301.5,162.82 L302.0,163.17 L302.5,163.57 L303.0,164.04 L303.5,164.57 L304.0,165.19 L304.5,165.86 L305.0,166.59 L305.5,167.33 L306.0,168.10 L306.5,168.90 L307.0,169.75 L307.5,170.68 L308.0,171.72 L308.5,172.85 L309.0,174.03 L309.5,175.23 L310.0,176.41 L310.5,177.59 L311.0,178.79 L311.5,180.07 L312.0,181.44 L312.5,182.90 L313.0,184.40 L313.5,185.88 L314.0,187.27 L314.5,188.57 L315.0,189.76 L315.5,190.88 L316.0,191.97 L316.5,193.05 L317.0,194.14 L317.5,195.23 L318.0,196.32 L318.5,197.38 L319.0,198.40 L319.5,199.39 L320.0,200.31 L320.5,201.19 L321.0,202.02 L321.5,202.81 L322.0,203.58 L322.5,204.33 L323.0,205.06 L323.5,205.78 L324.0,206.48 L324.5,207.15 L325.0,207.80 L325.5,208.43 L326.0,209.03 L326.5,209.62 L327.0,210.18 L327.5,210.73 L328.0,211.26 L328.5,211.77 L329.0,212.26 L329.5,212.75 L330.0,213.24 L330.5,213.74 L331.0,214.25 L331.5,214.78 L332.0,215.31 L332.5,215.84 L333.0,216.36 L333.5,216.86 L334.0,217.33 L334.5,217.78 L335.0,218.19 L335.5,218.59 L336.0,218.97 L336.5,219.33 L337.0,219.68 L337.5,220.02 L338.0,220.35 L338.5,220.67 L339.0,220.98 L339.5,221.28 L340.0,221.57 L340.5,221.86 L341.0,222.13 L341.5,222.40 L342.0,222.66 L342.5,222.91 L343.0,223.15 L343.5,223.39 L344.0,223.62 L344.5,223.84 L345.0,224.06 L345.5,224.27 L346.0,224.47 L346.5,224.67 L347.0,224.87 L347.5,225.06 L348.0,225.24 L348.5,225.41 L349.0,225.58 L349.5,225.74 L350.0,225.88 L350.5,226.01 L351.0,226.14 L351.5,226.26 L352.0,226.38 L352.5,226.49 L353.0,226.59 L353.5,226.69 L354.0,226.79 L354.5,226.88 L355.0,226.96 L355.5,227.04 L356.0,227.12 L356.5,227.19 L357.0,227.26 L357.5,227.32 L358.0,227.38 L358.5,227.44 L359.0,227.50 L359.5,227.55 L360.0,227.60 L360.5,227.65 L361.0,227.70 L361.5,227.75 L362.0,227.79 L362.5,227.84 L363.0,227.88 L363.5,227.93 L364.0,227.97 L364.5,228.01 L365.0,228.06 L365.5,228.10 L366.0,228.14 L366.5,228.19 L367.0,228.23 L367.5,228.27 L368.0,228.31 L368.5,228.35 L369.0,228.40 L369.5,228.44 L370.0,228.47 L370.5,228.51 L371.0,228.55 L371.5,228.59 L372.0,228.62 L372.5,228.65 L373.0,228.67" stroke="#1c48d8" stroke-dasharray="5.2 3.75" stroke-dashoffset="8.46"/>
<path d="M87.0,229.38 L87.5,229.38 L88.0,229.38 L88.5,229.38 L89.0,229.38 L89.5,229.38 L90.0,229.38 L90.5,229.38 L91.0,229.38 L91.5,229.38 L92.0,229.38 L92.5,229.38 L93.0,229.38 L93.5,229.38 L94.0,229.38 L94.5,229.38 L95.0,229.38 L95.5,229.38 L96.0,229.38 L96.5,229.38 L97.0,229.38 L97.5,229.38 L98.0,229.38 L98.5,229.38 L99.0,229.38 L99.5,229.38 L100.0,229.38 L100.5,229.38 L101.0,229.38 L101.5,229.38 L102.0,229.38 L102.5,229.38 L103.0,229.38 L103.5,229.38 L104.0,229.38 L104.5,229.38 L105.0,229.38 L105.5,229.38 L106.0,229.38 L106.5,229.38 L107.0,229.38 L107.5,229.38 L108.0,229.38 L108.5,229.38 L109.0,229.38 L109.5,229.38 L110.0,229.38 L110.5,229.38 L111.0,229.38 L111.5,229.38 L112.0,229.38 L112.5,229.38 L113.0,229.38 L113.5,229.38 L114.0,229.38 L114.5,229.38 L115.0,229.38 L115.5,229.38 L116.0,229.38 L116.5,229.38 L117.0,229.38 L117.5,229.38 L118.0,229.38 L118.5,229.38 L119.0,229.38 L119.5,229.38 L120.0,229.38 L120.5,229.38 L121.0,229.38 L121.5,229.38 L122.0,229.38 L122.5,229.38 L123.0,229.38 L123.5,229.38 L124.0,229.38 L124.5,229.38 L125.0,229.38 L125.5,229.38 L126.0,229.38 L126.5,229.38 L127.0,229.38 L127.5,229.38 L128.0,229.38 L128.5,229.38 L129.0,229.38 L129.5,229.38 L130.0,229.38 L130.5,229.38 L131.0,229.38 L131.5,229.38 L132.0,229.38 L132.5,229.38 L133.0,229.38 L133.5,229.38 L134.0,229.38 L134.5,229.38 L135.0,229.38 L135.5,229.38 L136.0,229.38 L136.5,229.38 L137.0,229.38 L137.5,229.38 L138.0,229.38 L138.5,229.38 L139.0,229.38 L139.5,229.38 L140.0,229.38 L140.5,229.38 L141.0,229.38 L141.5,229.38 L142.0,229.38 L142.5,229.38 L143.0,229.38 L143.5,229.38 L144.0,229.38 L144.5,229.38 L145.0,229.38 L145.5,229.38 L146.0,229.38 L146.5,229.38 L147.0,229.38 L147.5,229.38 L148.0,229.38 L148.5,229.38 L149.0,229.38 L149.5,229.38 L150.0,229.38 L150.5,229.38 L151.0,229.38 L151.5,229.38 L152.0,229.38 L152.5,229.38 L153.0,229.38 L153.5,229.38 L154.0,229.38 L154.5,229.38 L155.0,229.38 L155.5,229.38 L156.0,229.38 L156.5,229.38 L157.0,229.38 L157.5,229.38 L158.0,229.38 L158.5,229.38 L159.0,229.38 L159.5,229.38 L160.0,229.38 L160.5,229.38 L161.0,229.38 L161.5,229.38 L162.0,229.38 L162.5,229.38 L163.0,229.38 L163.5,229.38 L164.0,229.38 L164.5,229.38 L165.0,229.38 L165.5,229.38 L166.0,229.38 L166.5,229.38 L167.0,229.38 L167.5,229.38 L168.0,229.38 L168.5,229.38 L169.0,229.38 L169.5,229.38 L170.0,229.38 L170.5,229.38 L171.0,229.38 L171.5,229.38 L172.0,229.38 L172.5,229.38 L173.0,229.38 L173.5,229.38 L174.0,229.38 L174.5,229.38 L175.0,229.38 L175.5,229.38 L176.0,229.38 L176.5,229.38 L177.0,229.38 L177.5,229.38 L178.0,229.38 L178.5,229.38 L179.0,229.38 L179.5,229.38 L180.0,229.38 L180.5,229.38 L181.0,229.38 L181.5,229.38 L182.0,229.38 L182.5,229.38 L183.0,229.38 L183.5,229.38 L184.0,229.38 L184.5,229.38 L185.0,229.38 L185.5,229.38 L186.0,229.38 L186.5,229.38 L187.0,229.38 L187.5,229.38 L188.0,229.38 L188.5,229.38 L189.0,229.38 L189.5,229.38 L190.0,229.38 L190.5,229.38 L191.0,229.38 L191.5,229.38 L192.0,229.38 L192.5,229.38 L193.0,229.38 L193.5,229.38 L194.0,229.38 L194.5,229.38 L195.0,229.38 L195.5,229.38 L196.0,229.38 L196.5,229.38 L197.0,229.38 L197.5,229.38 L198.0,229.38 L198.5,229.38 L199.0,229.38 L199.5,229.38 L200.0,229.38" stroke="#22d21a" stroke-dasharray="5.2 3.75" stroke-dashoffset="8.90"/>
<path d="M200.0,229.38 L200.5,229.38 L201.0,229.38 L201.5,229.38 L202.0,229.38 L202.5,229.38 L203.0,229.38 L203.5,229.38 L204.0,229.38 L204.5,229.38 L205.0,229.38 L205.5,229.38 L206.0,229.38 L206.5,229.38 L207.0,229.38 L207.5,229.38 L208.0,229.38 L208.5,229.38 L209.0,229.38 L209.5,229.38 L210.0,229.38 L210.5,229.38 L211.0,229.38 L211.5,229.38 L212.0,229.38 L212.5,229.38 L213.0,229.38 L213.5,229.38 L214.0,229.38 L214.5,229.38 L215.0,229.38 L215.5,229.38 L216.0,229.38 L216.5,229.38 L217.0,229.38 L217.5,229.38 L218.0,229.38 L218.5,229.38 L219.0,229.38 L219.5,229.38 L220.0,229.38 L220.5,229.38 L221.0,229.38 L221.5,229.38 L222.0,229.38 L222.5,229.38 L223.0,229.38 L223.5,229.38 L224.0,229.38 L224.5,229.38 L225.0,229.38 L225.5,229.38 L226.0,229.38 L226.5,229.38 L227.0,229.38 L227.5,229.38 L228.0,229.38 L228.5,229.38 L229.0,229.38 L229.5,229.38 L230.0,229.38 L230.5,229.38 L231.0,229.38 L231.5,229.38 L232.0,229.38 L232.5,229.38 L233.0,229.38 L233.5,229.38 L234.0,229.38 L234.5,229.38 L235.0,229.38 L235.5,229.38 L236.0,229.38 L236.5,229.38 L237.0,229.38 L237.5,229.38 L238.0,229.38 L238.5,229.38 L239.0,229.38 L239.5,229.38 L240.0,229.38 L240.5,229.38 L241.0,229.38 L241.5,229.38 L242.0,229.38 L242.5,229.38 L243.0,229.38 L243.5,229.38 L244.0,229.38 L244.5,229.38 L245.0,229.38 L245.5,229.38 L246.0,229.38 L246.5,229.38 L247.0,229.38 L247.5,229.38 L248.0,229.38 L248.5,229.38 L249.0,229.38 L249.5,229.38 L250.0,229.38 L250.5,229.38 L251.0,229.38 L251.5,229.38 L252.0,229.38 L252.5,229.38 L253.0,229.38 L253.5,229.38 L254.0,229.38 L254.5,229.38 L255.0,229.38 L255.5,229.38 L256.0,229.38 L256.5,229.38 L257.0,229.38 L257.5,229.38 L258.0,229.38 L258.5,229.38 L259.0,229.38 L259.5,229.38 L260.0,229.38 L260.5,229.38 L261.0,229.38 L261.5,229.38 L262.0,229.38 L262.5,229.38 L263.0,229.38 L263.5,229.38 L264.0,229.38 L264.5,229.38 L265.0,229.38 L265.5,229.38 L266.0,229.38 L266.5,229.38 L267.0,229.38 L267.5,229.38 L268.0,229.38 L268.5,229.38 L269.0,229.38 L269.5,229.38 L270.0,229.38 L270.5,229.38 L271.0,229.38 L271.5,229.38 L272.0,229.38 L272.5,229.38 L273.0,229.38 L273.5,229.38 L274.0,229.38 L274.5,229.38 L275.0,229.38 L275.5,229.38 L276.0,229.38 L276.5,229.38 L277.0,229.38 L277.5,229.38 L278.0,229.38 L278.5,229.38 L279.0,229.38 L279.5,229.38 L280.0,229.38 L280.5,229.38 L281.0,229.38 L281.5,229.38 L282.0,229.38 L282.5,229.38 L283.0,229.38 L283.5,229.38 L284.0,229.38 L284.5,229.38 L285.0,229.38 L285.5,229.38 L286.0,229.38 L286.5,229.38 L287.0,229.38 L287.5,229.38 L288.0,229.38 L288.5,229.38 L289.0,229.38 L289.5,229.38 L290.0,229.38 L290.5,229.38 L291.0,229.38 L291.5,229.38 L292.0,229.38 L292.5,229.38 L293.0,229.38 L293.5,229.38 L294.0,229.38 L294.5,229.38 L295.0,229.38 L295.5,229.38 L296.0,229.38 L296.5,229.38 L297.0,229.38 L297.5,229.38 L298.0,229.38 L298.5,229.38 L299.0,229.38 L299.5,229.38 L300.0,229.38 L300.5,229.38 L301.0,229.38 L301.5,229.38 L302.0,229.38 L302.5,229.38 L303.0,229.38 L303.5,229.38 L304.0,229.38 L304.5,229.38 L305.0,229.38 L305.5,229.38 L306.0,229.38 L306.5,229.38 L307.0,229.38 L307.5,229.38 L308.0,229.38 L308.5,229.38 L309.0,229.38 L309.5,229.38 L310.0,229.38 L310.5,229.38 L311.0,229.38 L311.5,229.38 L312.0,229.38 L312.5,229.38 L313.0,229.38 L313.5,229.38 L314.0,229.38 L314.5,229.38 L315.0,229.38 L315.5,229.38 L316.0,229.38 L316.5,229.38 L317.0,229.38 L317.5,229.38 L318.0,229.38 L318.5,229.38 L319.0,229.38 L319.5,229.38 L320.0,229.38 L320.5,229.38 L321.0,229.38 L321.5,229.38 L322.0,229.38 L322.5,229.38 L323.0,229.38 L323.5,229.38 L324.0,229.38 L324.5,229.38 L325.0,229.38 L325.5,229.38 L326.0,229.38 L326.5,229.38 L327.0,229.38 L327.5,229.38 L328.0,229.38 L328.5,229.38 L329.0,229.38 L329.5,229.38 L330.0,229.38 L330.5,229.38 L331.0,229.38 L331.5,229.38 L332.0,229.38 L332.5,229.38 L333.0,229.38 L333.5,229.38 L334.0,229.38 L334.5,229.38 L335.0,229.38 L335.5,229.38 L336.0,229.38 L336.5,229.38 L337.0,229.38 L337.5,229.38 L338.0,229.38 L338.5,229.38 L339.0,229.38 L339.5,229.38 L340.0,229.38 L340.5,229.38 L341.0,229.38 L341.5,229.38 L342.0,229.38 L342.5,229.38 L343.0,229.38 L343.5,229.38 L344.0,229.38 L344.5,229.38 L345.0,229.38 L345.5,229.38 L346.0,229.38 L346.5,229.38 L347.0,229.38 L347.5,229.38 L348.0,229.38 L348.5,229.38 L349.0,229.38 L349.5,229.38 L350.0,229.38 L350.5,229.38 L351.0,229.38 L351.5,229.38 L352.0,229.38 L352.5,229.38 L353.0,229.38 L353.5,229.38 L354.0,229.38 L354.5,229.38 L355.0,229.38 L355.5,229.38 L356.0,229.38 L356.5,229.38 L357.0,229.38 L357.5,229.38 L358.0,229.38 L358.5,229.38 L359.0,229.38 L359.5,229.38 L360.0,229.38 L360.5,229.38 L361.0,229.38 L361.5,229.38 L362.0,229.38 L362.5,229.38 L363.0,229.38 L363.5,229.38 L364.0,229.38 L364.5,229.38 L365.0,229.38 L365.5,229.38 L366.0,229.38 L366.5,229.38 L367.0,229.38 L367.5,229.38 L368.0,229.38 L368.5,229.38 L369.0,229.38 L369.5,229.38 L370.0,229.38 L370.5,229.38 L371.0,229.38 L371.5,229.38 L372.0,229.38 L372.5,229.38 L373.0,229.38" stroke="#22d21a" stroke-dasharray="5.2 3.75" stroke-dashoffset="5.20"/>
</g>
<g stroke="#000" stroke-width="0.46" fill="none">
<path d="M87.5,229.5 V27.5 H372.85 V229.5"/>
<path d="M104.29,229.5 v-2.0 M104.29,27.5 v2.0"/>
<path d="M121.07,229.5 v-4.0 M121.07,27.5 v4.0"/>
<path d="M137.86,229.5 v-2.0 M137.86,27.5 v2.0"/>
<path d="M154.64,229.5 v-2.0 M154.64,27.5 v2.0"/>
<path d="M171.43,229.5 v-2.0 M171.43,27.5 v2.0"/>
<path d="M188.21,229.5 v-2.0 M188.21,27.5 v2.0"/>
<path d="M205.00,229.5 v-4.0 M205.00,27.5 v4.0"/>
<path d="M221.78,229.5 v-2.0 M221.78,27.5 v2.0"/>
<path d="M238.57,229.5 v-2.0 M238.57,27.5 v2.0"/>
<path d="M255.35,229.5 v-2.0 M255.35,27.5 v2.0"/>
<path d="M272.14,229.5 v-2.0 M272.14,27.5 v2.0"/>
<path d="M288.92,229.5 v-4.0 M288.92,27.5 v4.0"/>
<path d="M305.71,229.5 v-2.0 M305.71,27.5 v2.0"/>
<path d="M322.49,229.5 v-2.0 M322.49,27.5 v2.0"/>
<path d="M339.28,229.5 v-2.0 M339.28,27.5 v2.0"/>
<path d="M356.06,229.5 v-2.0 M356.06,27.5 v2.0"/>
<path d="M87.5,221.08 h2.85 M372.85,221.08 h-2.85"/>
<path d="M87.5,212.67 h2.85 M372.85,212.67 h-2.85"/>
<path d="M87.5,204.25 h2.85 M372.85,204.25 h-2.85"/>
<path d="M87.5,195.83 h5.7 M372.85,195.83 h-5.7"/>
<path d="M87.5,187.42 h2.85 M372.85,187.42 h-2.85"/>
<path d="M87.5,179.00 h2.85 M372.85,179.00 h-2.85"/>
<path d="M87.5,170.58 h2.85 M372.85,170.58 h-2.85"/>
<path d="M87.5,162.17 h5.7 M372.85,162.17 h-5.7"/>
<path d="M87.5,153.75 h2.85 M372.85,153.75 h-2.85"/>
<path d="M87.5,145.33 h2.85 M372.85,145.33 h-2.85"/>
<path d="M87.5,136.92 h2.85 M372.85,136.92 h-2.85"/>
<path d="M87.5,128.50 h5.7 M372.85,128.50 h-5.7"/>
<path d="M87.5,120.08 h2.85 M372.85,120.08 h-2.85"/>
<path d="M87.5,111.67 h2.85 M372.85,111.67 h-2.85"/>
<path d="M87.5,103.25 h2.85 M372.85,103.25 h-2.85"/>
<path d="M87.5,94.83 h5.7 M372.85,94.83 h-5.7"/>
<path d="M87.5,86.42 h2.85 M372.85,86.42 h-2.85"/>
<path d="M87.5,78.00 h2.85 M372.85,78.00 h-2.85"/>
<path d="M87.5,69.58 h2.85 M372.85,69.58 h-2.85"/>
<path d="M87.5,61.17 h5.7 M372.85,61.17 h-5.7"/>
<path d="M87.5,52.75 h2.85 M372.85,52.75 h-2.85"/>
<path d="M87.5,44.33 h2.85 M372.85,44.33 h-2.85"/>
<path d="M87.5,35.92 h2.85 M372.85,35.92 h-2.85"/>
<path d="M87.5,27.50 h5.7 M372.85,27.50 h-5.7"/>
</g>
<path d="M103.8,61.0 H137.2" stroke="#dc141e" stroke-width="1.6"/>
<path d="M103.8,78.0 H137.2" stroke="#1c48d8" stroke-width="1.6"/>
<path d="M103.8,95.0 H137.2" stroke="#22d21a" stroke-width="1.6"/>
<g filter="url(#soft)">
<text transform="translate(82.8,37.0) scale(1,1.08)" text-anchor="end" >12</text>
<text transform="translate(82.8,66.8) scale(1,1.08)" text-anchor="end" >10</text>
<text transform="translate(82.8,100.53333333333335) scale(1,1.08)" text-anchor="end" >8</text>
<text transform="translate(82.8,134.2) scale(1,1.08)" text-anchor="end" >6</text>
<text transform="translate(82.8,167.86666666666667) scale(1,1.08)" text-anchor="end" >4</text>
<text transform="translate(82.8,201.53333333333333) scale(1,1.08)" text-anchor="end" >2</text>
<text transform="translate(82.8,230.1) scale(1,1.08)" text-anchor="end" >0</text>
<text transform="translate(121.1705882352941,250.5) scale(1,1.08)" text-anchor="middle" >-100</text>
<text transform="translate(205.0970588235294,250.5) scale(1,1.08)" text-anchor="middle" >-50</text>
<text transform="translate(289.0235294117648,250.5) scale(1,1.08)" text-anchor="middle" >0</text>
<text transform="translate(372.95000000000005,250.5) scale(1,1.08)" text-anchor="middle" >50</text>
<text transform="translate(230.0,268.9) scale(1,1.08)" text-anchor="middle" >(t-t<tspan font-size="10.75" dy="3.6">peak</tspan><tspan dy="-3.6">)/M</tspan></text>
<text transform="translate(50.7,127.9) rotate(-90) scale(1,1.08)" text-anchor="middle" >flux amplitude (x10<tspan font-size="10.75" dy="-5.7">-5</tspan><tspan dy="5.7">)</tspan></text>
<text transform="translate(323.0,52.4) scale(1,1.0)" text-anchor="start" >EQ<tspan font-size="10.3" dy="5.0">+-</tspan></text>
<g font-family="Liberation Serif, serif" font-weight="bold" font-style="italic" fill="#dc141e"><text x="146.0" y="66.05" font-size="17.9">F</text><text transform="translate(157.5,59.449999999999996) scale(1,1.09)" font-size="10.4">22,33</text></g>
<g font-family="Liberation Serif, serif" font-weight="bold" font-style="italic" fill="#1c48d8"><text x="146.0" y="82.95" font-size="17.9">F</text><text transform="translate(157.5,76.35000000000001) scale(1,1.09)" font-size="10.4">21,22</text></g>
<g font-family="Liberation Serif, serif" font-weight="bold" font-style="italic" fill="#22d21a"><text x="146.0" y="99.85" font-size="17.9">F</text><text transform="translate(157.5,93.25) scale(1,1.09)" font-size="10.4">33,44</text></g>
</g>
</svg>
</body></html>
